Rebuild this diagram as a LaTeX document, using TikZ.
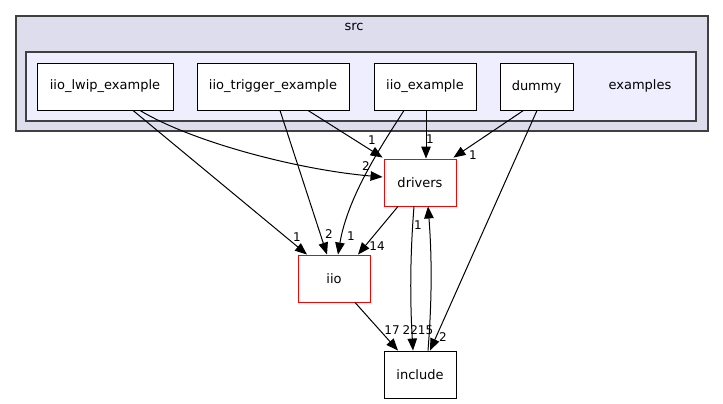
\documentclass[tikz,border=0pt]{standalone}
\usepackage{fontspec}
\setmainfont{DejaVu Sans}
\usetikzlibrary{arrows.meta,calc}
\definecolor{srcfill}{HTML}{DDDDEE}
\definecolor{exfill}{HTML}{EEEEFF}
\definecolor{frame}{HTML}{404040}
\definecolor{hot}{HTML}{FF0000}
\tikzset{
  dirbox/.style={draw=black, fill=white, line width=0.9pt, minimum height=47pt, inner sep=0pt, font=\fontsize{13}{15}\selectfont},
  hotbox/.style={dirbox, draw=hot},
  cluster/.style={draw=frame, line width=1.2pt},
  edge/.style={draw=black, line width=1pt, -{Triangle[length=12pt,width=9.5pt]}},
  elabel/.style={font=\fontsize{12}{14}\selectfont, inner sep=0pt},
  clabel/.style={font=\fontsize{13}{15}\selectfont, inner sep=0pt},
}
\begin{document}
\begin{tikzpicture}[x=1pt,y=-1pt]
\useasboundingbox (0,0) rectangle (723,404);
% clusters
\draw[cluster, fill=srcfill] (16,16) rectangle (708,131);
\node[clabel] (srclbl) at (354,27) {src};
\draw[cluster, fill=exfill] (26,52) rectangle (696,121);
\node[clabel] (exlbl) at (640,85.5) {examples};
% directories
\node[dirbox, minimum width=136pt] (lwip) at (105,86.5) {iio\_lwip\_example};
\node[dirbox, minimum width=152pt] (trig) at (273,86.5) {iio\_trigger\_example};
\node[dirbox, minimum width=102pt] (iioex) at (425,86.5) {iio\_example};
\node[dirbox, minimum width=73pt] (dummy) at (536.5,86.5) {dummy};
\node[hotbox, minimum width=72pt] (drivers) at (420,182.5) {drivers};
\node[hotbox, minimum width=72pt] (iio) at (334,278.5) {iio};
\node[dirbox, minimum width=72pt] (include) at (420,374.5) {include};
% dependencies
\draw[edge] ($(lwip.south)+(35,0)$) .. controls ($(lwip.south)+(88,32)$) and ($(drivers.west)+(-84,-12.5)$) .. ($(drivers.west)+(-1,-5.5)$);
\draw[edge] ($(lwip.south)+(28,0)$) -- ($(iio.north)+(-27,0)$);
\draw[edge] ($(trig.south)+(35,0)$) -- ($(drivers.north west)+(-1,-1)$);
\draw[edge] ($(trig.south)+(7,0)$) -- ($(iio.north)+(-7,0)$);
\draw[edge] ($(iioex.south)+(-21,0)$) .. controls ($(iioex.south)+(-40,30)$) and ($(iio.north)+(14,-60)$) .. ($(iio.north)+(4,0)$);
\draw[edge] ($(iioex.south)+(1,0)$) -- ($(drivers.north)+(6,0)$);
\draw[edge] ($(dummy.south)+(-13,0)$) -- ($(drivers.north east)+(-3,-1)$);
\draw[edge] ($(dummy.south)+(0.5,0)$) -- ($(include.north)+(10,0)$);
\draw[edge] ($(drivers.south)+(-22,0)$) -- ($(iio.north)+(24,0)$);
\draw[edge] ($(drivers.south)+(-6,0)$) .. controls ($(drivers.south)+(-10,50)$) and ($(include.north)+(-10,-50)$) .. ($(include.north)+(-7,0)$);
\draw[edge] ($(include.north)+(8,0)$) .. controls ($(include.north)+(12,-50)$) and ($(drivers.south)+(12,50)$) .. ($(drivers.south)+(8,0)$);
\draw[edge] ($(iio.south)+(21,0)$) -- ($(include.north)+(-22,0)$);
% edge counts
\node[elabel] (l1) at (366,166) {2};
\node[elabel] (l2) at (297,237) {1};
\node[elabel] (l3) at (372,140) {1};
\node[elabel] (l4) at (329,234) {2};
\node[elabel] (l5) at (351,236) {1};
\node[elabel] (l6) at (430,139) {1};
\node[elabel] (l7) at (473,155) {1};
\node[elabel] (l8) at (443,337) {2};
\node[elabel] (l9) at (377,246) {14};
\node[elabel] (l10) at (418,330) {2215};
\node[elabel] (l11) at (418,225) {1};
\node[elabel] (l12) at (392,330) {17};
\end{tikzpicture}
\end{document}
